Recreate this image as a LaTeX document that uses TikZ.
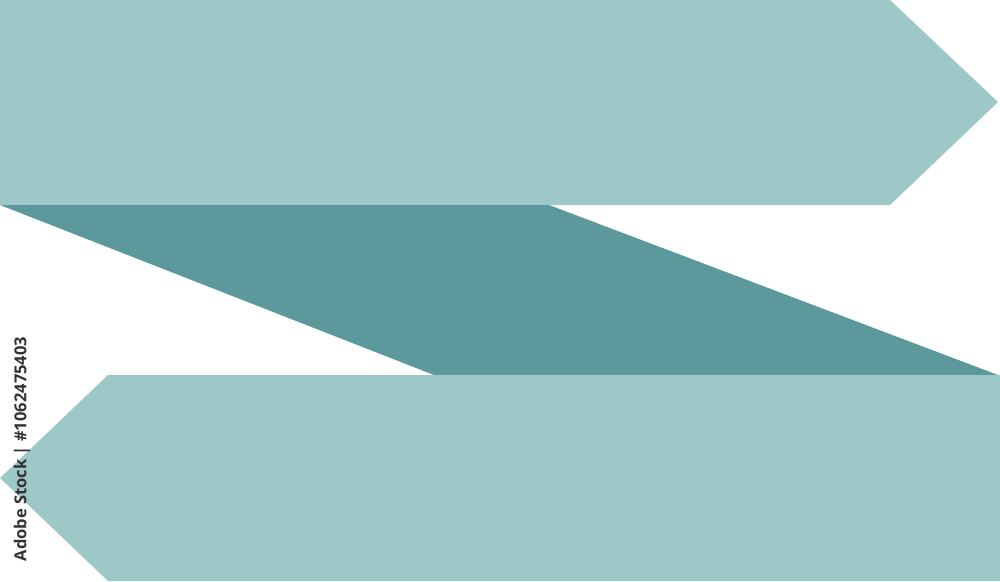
\documentclass[tikz,border=0pt]{standalone}
\usepackage{fontspec}
\setmainfont{Open Sans}
\definecolor{lightteal}{HTML}{9EC7C7}
\definecolor{darkteal}{HTML}{5C999C}
\definecolor{marktext}{HTML}{333333}
\begin{document}
\begin{tikzpicture}[x=1pt,y=-1pt,
  light/.style={fill=lightteal,draw=none},
  dark/.style={fill=darkteal,draw=none}]
\useasboundingbox (0,0) rectangle (1000,581);
\fill[white] (0,0) rectangle (1000,581);
% top arrow
\path[light] (0,0) -- (890,0) -- (998,102) -- (890,205) -- (0,205) -- cycle;
% middle band
\path[dark] (0,205) -- (549,205) -- (998,375) -- (434,375) -- cycle;
% bottom arrow
\path[light] (108,375) -- (1000,375) -- (1000,581) -- (108,581) -- (0,478) -- cycle;
% side label
\node[rotate=90,text=marktext,font=\fontsize{16.5}{20}\selectfont\bfseries,inner sep=0pt] (id) at (22,449) {Adobe Stock | \#1062475403};
\end{tikzpicture}
\end{document}
